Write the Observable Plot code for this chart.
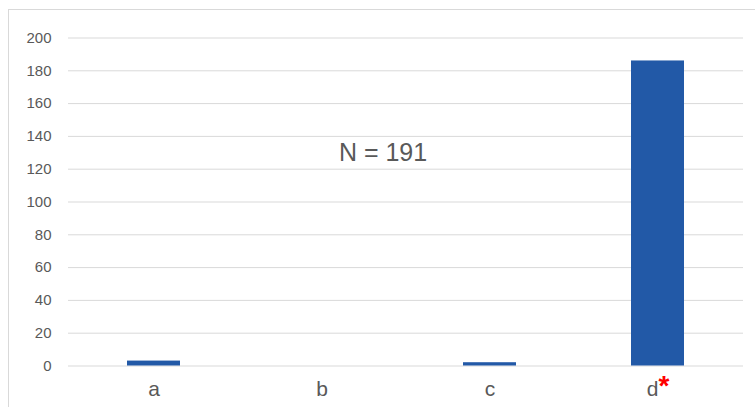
<!DOCTYPE html>
<html>
<head>
<meta charset="utf-8">
<script src="https://cdn.jsdelivr.net/npm/d3@7"></script>
<script src="https://cdn.jsdelivr.net/npm/@observablehq/plot@0.6"></script>
<style>
  html, body { margin: 0; padding: 0; background: #fff; overflow: hidden; }
  #wrap { position: relative; width: 755px; height: 407px; }
  #border { position: absolute; left: 8px; top: 9px; width: 800px; height: 500px; border: 1px solid #d9d9d9; box-sizing: border-box; }
  #chart { position: absolute; left: 0; top: 0; }
</style>
</head>
<body>
<div id="wrap"><div id="border"></div><div id="chart"></div></div>
<script>
const categories = ["a", "b", "c", "d"];
const counts = [3, 0, 2, 186];
const yTicks = [0, 20, 40, 60, 80, 100, 120, 140, 160, 180, 200];
const annotation = "N = 191";

const data = categories.map((c, i) => ({category: c, value: counts[i]}));

const plot = Plot.plot({
  width: 755,
  height: 407,
  marginLeft: 68,
  marginRight: 12,
  marginTop: 37.5,
  marginBottom: 41.5,
  style: {background: "transparent", fontFamily: "'Liberation Sans', Arial, sans-serif", color: "#595959"},
  x: {domain: categories, paddingInner: 0.686, paddingOuter: 0.343, label: null, axis: null},
  y: {domain: [0, 200], label: null, axis: null},
  marks: [
    Plot.gridY(yTicks, {stroke: "#d9d9d9", strokeOpacity: 1, strokeWidth: 1}),
    Plot.axisY(yTicks, {tickSize: 0, tickPadding: 17, fontSize: 15, fill: "#595959", label: null}),
    Plot.axisX({tickSize: 0, tickPadding: 15, fontSize: 21, fill: "#595959", label: null}),
    Plot.barY(data, {x: "category", y: "value", fill: "#2259a7"}),
    Plot.text([annotation], {frameAnchor: "top", lineAnchor: "middle", dy: 115, dx: -23, text: d => d, fontSize: 25, fill: "#595959"})
  ]
});

document.getElementById("chart").appendChild(plot);

// red asterisk after "d"
plot.querySelectorAll('[aria-label="x-axis tick label"] text').forEach(t => {
  if (t.textContent === "d") {
    const ts = document.createElementNS("http://www.w3.org/2000/svg", "tspan");
    ts.textContent = "*";
    ts.setAttribute("fill", "#ff0000");
    ts.setAttribute("font-size", "28");
    ts.setAttribute("font-weight", "bold");
    ts.setAttribute("dy", "-0.02em");
    t.appendChild(ts);
  }
});
</script>
</body>
</html>
